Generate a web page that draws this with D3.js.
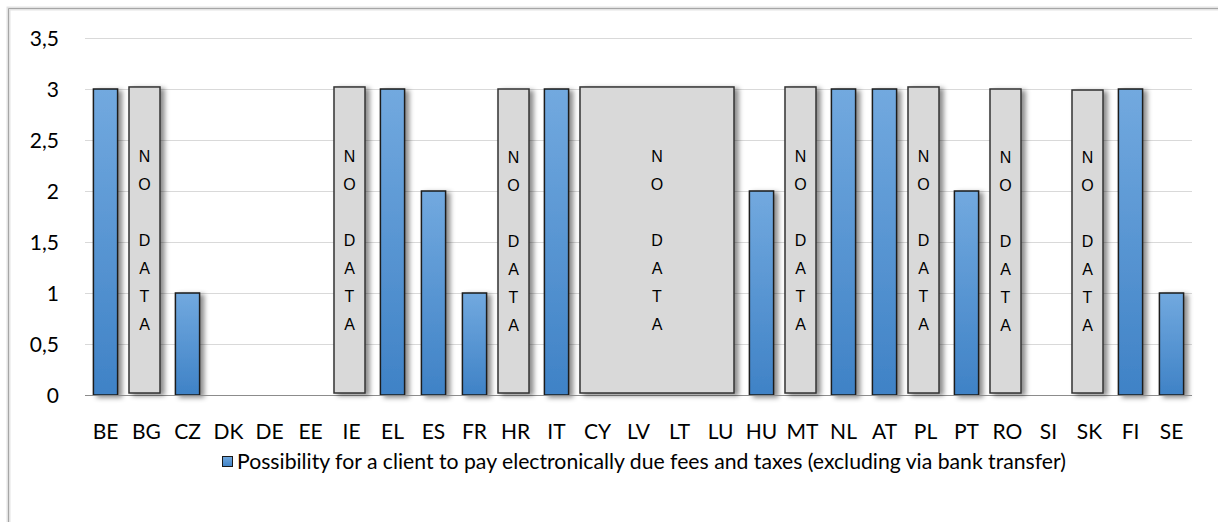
<!DOCTYPE html>
<html>
<head>
<meta charset="utf-8">
<script src="https://cdn.jsdelivr.net/npm/d3@7"></script>
<style>
  html, body { margin: 0; padding: 0; background: #fff; overflow: hidden; }
  svg { display: block; }
  text { font-family: Lato, "Open Sans", sans-serif; fill: #000; }
</style>
</head>
<body>
<svg id="canvas" width="1218" height="522"></svg>
<script>
// ---------------------------------------------------------------- data
var countries = ['BE','BG','CZ','DK','DE','EE','IE','EL','ES','FR','HR','IT','CY','LV','LT','LU','HU','MT','NL','AT','PL','PT','RO','SI','SK','FI','SE'];
// null = no data
var values = [3, null, 1, 0, 0, 0, null, 3, 2, 1, null, 3, null, null, null, null, 2, null, 3, 3, null, 2, null, 0, null, 3, 1];
// "NO DATA" boxes: first and last country covered, top value
var noDataFrom = ['BG','IE','HR','CY','MT','PL','RO','SK'];
var noDataTo   = ['BG','IE','HR','LU','MT','PL','RO','SK'];
var noDataTop  = [3.02, 3.02, 3.0, 3.02, 3.02, 3.02, 3.0, 2.99];
var yTicks = [0, 0.5, 1, 1.5, 2, 2.5, 3, 3.5];
var seriesName = 'Possibility for a client to pay electronically due fees and taxes (excluding via bank transfer)';

// ---------------------------------------------------------------- setup
var svg = d3.select('#canvas');
var defs = svg.append('defs');

var grad = defs.append('linearGradient')
  .attr('id', 'blueGrad').attr('x1', 0).attr('y1', 0).attr('x2', 0).attr('y2', 1);
grad.append('stop').attr('offset', '0%').attr('stop-color', '#72a9df');
grad.append('stop').attr('offset', '100%').attr('stop-color', '#3f82c6');

var shadow = defs.append('filter').attr('id', 'shadow')
  .attr('x', '-30%').attr('y', '-10%').attr('width', '180%').attr('height', '130%');
shadow.append('feDropShadow').attr('dx', 4).attr('dy', 2).attr('stdDeviation', 2.5)
  .attr('flood-color', '#000').attr('flood-opacity', 0.45);

// chart frame: only left and top edges are in view
svg.append('path')
  .attr('d', 'M8.5,540V8.5H1240')
  .attr('fill', 'none').attr('stroke', '#e3e3e3').attr('stroke-width', 4);
svg.append('path')
  .attr('d', 'M8.5,540V8.5H1240')
  .attr('fill', 'none').attr('stroke', '#a6a6a6').attr('stroke-width', 1);

var plot = { left: 85, right: 1192, top: 38, bottom: 395 };

var x = d3.scaleBand().domain(countries)
  .range([plot.left, plot.right])
  .paddingInner(0.41).paddingOuter(0.205);
var y = d3.scaleLinear().domain([0, 3.5]).range([plot.bottom, plot.top]);
var step = x.step();
var bandStart = function(c){ return x(c) - (step - x.bandwidth()) / 2; };

// ---------------------------------------------------------------- grid + axes
svg.append('g').selectAll('line').data(yTicks.filter(function(d){ return d > 0; }))
  .join('line')
  .attr('x1', plot.left).attr('x2', plot.right)
  .attr('y1', function(d){ return Math.round(y(d)) + 0.5; })
  .attr('y2', function(d){ return Math.round(y(d)) + 0.5; })
  .attr('stroke', '#d9d9d9').attr('stroke-width', 1.2);

var yAxis = svg.append('g').attr('transform', 'translate(' + (plot.left - 26) + ',0)')
  .call(d3.axisLeft(y).tickValues(yTicks).tickSize(0).tickPadding(0)
    .tickFormat(function(d){ return String(d).replace('.', ','); }));
yAxis.select('.domain').remove();
yAxis.selectAll('text').style('font-size', '21px').attr('dy', '0.35em');

var xAxis = svg.append('g').attr('transform', 'translate(0,' + plot.bottom + ')')
  .call(d3.axisBottom(x).tickSize(0).tickPadding(0));
xAxis.select('.domain').remove();
xAxis.selectAll('text').style('font-size', '21px').attr('y', 37).attr('dy', '0.35em');

// ---------------------------------------------------------------- bars
var barData = countries.map(function(c, i){ return { c: c, v: values[i] }; })
  .filter(function(d){ return d.v !== null && d.v > 0; });

svg.append('g').selectAll('rect').data(barData).join('rect')
  .attr('x', function(d){ return x(d.c); })
  .attr('y', function(d){ return y(d.v); })
  .attr('width', x.bandwidth())
  .attr('height', function(d){ return y(0) - y(d.v); })
  .attr('fill', 'url(#blueGrad)')
  .attr('stroke', '#1a1a1a').attr('stroke-width', 1.5)
  .attr('filter', 'url(#shadow)');

// baseline
svg.append('line')
  .attr('x1', plot.left).attr('x2', plot.right)
  .attr('y1', plot.bottom + 0.5).attr('y2', plot.bottom + 0.5)
  .attr('stroke', '#8c8c8c').attr('stroke-width', 1.2);

// ---------------------------------------------------------------- "NO DATA" boxes
var boxData = noDataFrom.map(function(f, i){
  return { x0: bandStart(f) + 3, x1: bandStart(noDataTo[i]) + step - 7, top: noDataTop[i] };
});
var letters = ['N', 'O', '', 'D', 'A', 'T', 'A'];

var boxes = svg.append('g').selectAll('g').data(boxData).join('g');
boxes.append('rect')
  .attr('x', function(d){ return d.x0; })
  .attr('y', function(d){ return y(d.top); })
  .attr('width', function(d){ return d.x1 - d.x0; })
  .attr('height', function(d){ return y(0) - 2 - y(d.top); })
  .attr('fill', '#d9d9d9').attr('stroke', '#333').attr('stroke-width', 1.5)
  .attr('filter', 'url(#shadow)');
boxes.each(function(d){
  var cx = (d.x0 + d.x1) / 2, cy = (y(d.top) + y(0) - 2) / 2;
  d3.select(this).selectAll('text').data(letters).join('text')
    .attr('x', cx)
    .attr('y', function(l, i){ return cy + (i - 3) * 28; })
    .attr('dy', '0.35em')
    .attr('text-anchor', 'middle')
    .style('font-family', '"Liberation Sans", Arial, sans-serif')
    .style('font-size', '16px')
    .text(function(l){ return l; });
});

// ---------------------------------------------------------------- legend
var legend = svg.append('g').attr('transform', 'translate(222,456)');
legend.append('rect').attr('x', 0.5).attr('y', 0.5).attr('width', 10).attr('height', 10)
  .attr('fill', 'url(#blueGrad)').attr('stroke', '#1a1a1a').attr('stroke-width', 1);
legend.append('text').attr('x', 15).attr('y', 6).attr('dy', '0.35em')
  .style('font-size', '21px')
  .attr('textLength', 829).attr('lengthAdjust', 'spacingAndGlyphs')
  .text(seriesName);
</script>
</body>
</html>
